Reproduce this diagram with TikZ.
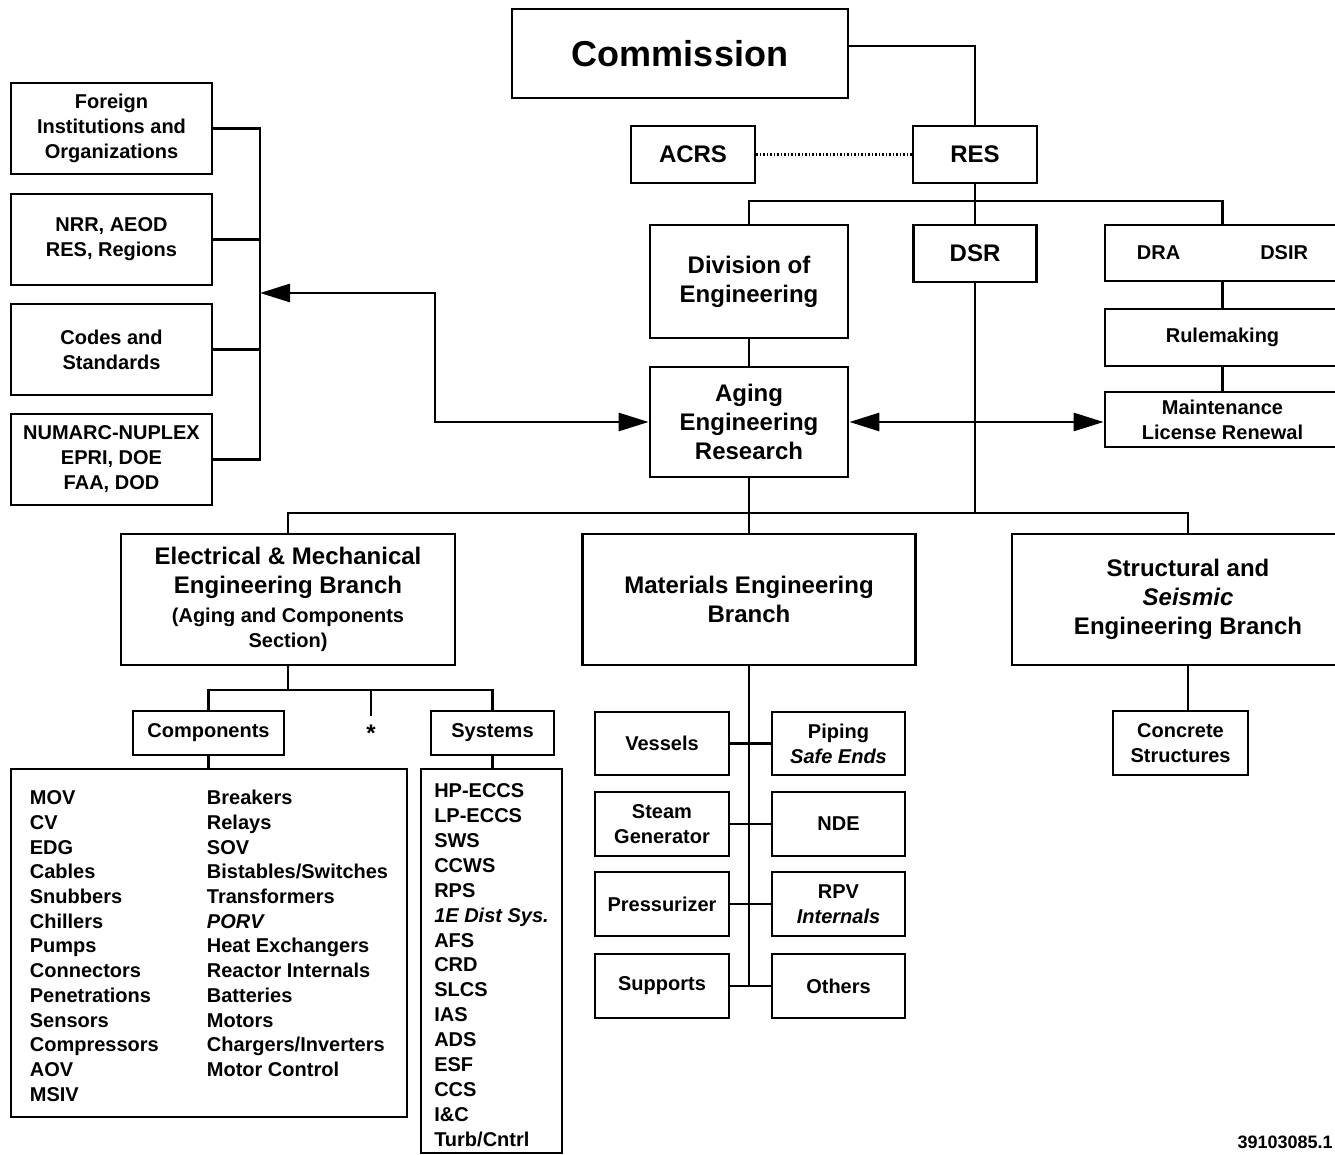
\documentclass[tikz,border=0pt]{standalone}
\usepackage{fontspec}
\setmainfont{Liberation Sans}
\usetikzlibrary{arrows.meta}

\begin{document}
\begin{tikzpicture}[x=1pt, y=-1pt, line width=2.8pt,
  >={Triangle[length=30pt,width=18pt]},
  box/.style={draw, align=center, inner sep=0pt, font=\fontsize{20}{25}\selectfont\bfseries},
  head/.style={box, font=\fontsize{24}{29}\selectfont\bfseries},
  dotline/.style={line width=2.2pt, dash pattern=on 1.5pt off 2pt}]

  \clip (0,0) rectangle (1335,1155);

  \node[box, font=\fontsize{36}{40}\selectfont\bfseries, minimum width=336pt, minimum height=89pt] (commission) at (680,53.5) {Commission};
  \node[head, minimum width=124pt, minimum height=57pt] (acrs) at (693,154.5) {ACRS};
  \node[head, minimum width=124pt, minimum height=57pt] (res) at (975,154.5) {RES};

  \node[head, minimum width=198pt, minimum height=113pt] (diveng) at (749,281.5) {Division of\\Engineering};
  \node[head, minimum width=123pt, minimum height=57pt] (dsr) at (975,253.5) {DSR};
  \node[box, minimum width=235pt, minimum height=56pt] (dra) at (1222.5,253) {DRA\hspace{80pt}DSIR};
  \node[box, minimum width=235pt, minimum height=57pt] (rulemaking) at (1222.5,337.5) {Rulemaking};
  \node[box, minimum width=235pt, minimum height=55pt] (renewal) at (1222.5,419.5) {Maintenance\\License Renewal};
  \node[head, minimum width=198pt, minimum height=110pt] (aging) at (749,422) {Aging\\Engineering\\Research};

  \node[box, minimum width=201pt, minimum height=91pt] (foreign) at (111.5,128.5) {Foreign\\Institutions and\\Organizations};
  \node[box, minimum width=201pt, minimum height=91pt] (nrr) at (111.5,239.5) {NRR, AEOD\\RES, Regions};
  \node[box, minimum width=201pt, minimum height=91pt] (codes) at (111.5,349.5) {Codes and\\Standards};
  \node[box, minimum width=201pt, minimum height=91pt] (numarc) at (111.5,459.5) {NUMARC-NUPLEX\\EPRI, DOE\\FAA, DOD};

  \node[head, minimum width=334pt, minimum height=131pt] (elecmech) at (288,599.5) {Electrical \& Mechanical\\Engineering Branch\\\fontsize{20}{25}\selectfont (Aging and Components\\[-4pt]\fontsize{20}{25}\selectfont Section)};
  \node[head, minimum width=333pt, minimum height=131pt] (materials) at (749,599.5) {Materials Engineering\\Branch};
  \node[head, minimum width=352pt, minimum height=131pt] (structural) at (1188,599.5) {Structural and\\\textit{Seismic}\\Engineering Branch};

  \node[box, minimum width=151pt, minimum height=44pt] (components) at (208.5,733) {Components};
  \node[font=\fontsize{24}{24}\selectfont\bfseries, inner sep=0pt] (star) at (371,733) {*};
  \node[box, minimum width=123pt, minimum height=44pt] (systems) at (492.5,733) {Systems};

  \node[box, minimum width=396pt, minimum height=348pt, font=\fontsize{20}{24.7}\selectfont\bfseries] (complist) at (209,943) {%
    \raisebox{-5pt}[\height][\depth]{\begin{tabular}{@{}p{177pt}@{}l@{}}
      MOV & Breakers\\
      CV & Relays\\
      EDG & SOV\\
      Cables & Bistables/Switches\\
      Snubbers & Transformers\\
      Chillers & \textit{PORV}\\
      Pumps & Heat Exchangers\\
      Connectors & Reactor Internals\\
      Penetrations & Batteries\\
      Sensors & Motors\\
      Compressors & Chargers/Inverters\\
      AOV & Motor Control\\
      MSIV &
    \end{tabular}}};
  \node[box, minimum width=141pt, minimum height=384pt, font=\fontsize{20}{24.86}\selectfont\bfseries] (syslist) at (491.5,961) {%
    \raisebox{-6pt}[\height][\depth]{\begin{tabular}{@{}l@{}}
      HP-ECCS\\ LP-ECCS\\ SWS\\ CCWS\\ RPS\\ \textit{1E Dist Sys.}\\ AFS\\ CRD\\
      SLCS\\ IAS\\ ADS\\ ESF\\ CCS\\ I\&C\\ Turb/Cntrl
    \end{tabular}}};

  \node[box, minimum width=134pt, minimum height=63pt] (vessels) at (662,743.5) {Vessels};
  \node[box, minimum width=133pt, minimum height=63pt] (piping) at (838.5,743.5) {Piping\\\textit{Safe Ends}};
  \node[box, minimum width=134pt, minimum height=64pt] (steamgen) at (662,824) {Steam\\Generator};
  \node[box, minimum width=133pt, minimum height=64pt] (nde) at (838.5,824) {NDE};
  \node[box, minimum width=134pt, minimum height=64pt] (pressurizer) at (662,904) {Pressurizer};
  \node[box, minimum width=133pt, minimum height=64pt] (rpv) at (838.5,904) {RPV\\\textit{Internals}};
  \node[box, minimum width=134pt, minimum height=64pt] (supports) at (662,986) {Supports};
  \node[box, minimum width=133pt, minimum height=64pt] (others) at (838.5,986) {Others};

  \node[box, minimum width=135pt, minimum height=64pt] (concrete) at (1180.5,743) {Concrete\\Structures};

  \node[font=\fontsize{18}{18}\selectfont\bfseries, anchor=east, inner sep=0pt] (docnum) at (1334,1142) {39103085.1};

  \coordinate (topbus) at (975,201);
  \coordinate (midbus) at (975,513);
  \coordinate (emebus) at (290,690);
  \coordinate (bracket) at (260,293);
  \coordinate (startip) at (371,716);

  \draw ([yshift=7.5pt]commission.east) -| (res.north);
  \draw[dotline] (acrs) -- (res);
  \draw (res) -- (dsr);
  \draw (diveng.north) |- (topbus) -| (dra.north);
  \draw (diveng) -- (aging);
  \draw (dra) -- (rulemaking);
  \draw (rulemaking) -- (renewal);
  \draw (dsr.south) -- (dsr.south |- midbus);

  \draw (foreign.east) -- (foreign.east -| bracket) -- (numarc.east -| bracket) -- (numarc.east);
  \draw (nrr.east) -- (nrr.east -| bracket);
  \draw (codes.east) -- (codes.east -| bracket);
  \draw[<->] (bracket) -- ++(175,0) |- (aging.west);
  \draw[<->] (aging.east) -- (aging.east -| renewal.west);

  \draw (elecmech.north) |- (midbus) -| (structural.north);
  \draw (aging) -- (materials);

  \draw (elecmech.south) -- (elecmech.south |- emebus);
  \draw (components.north) |- (emebus) -| (systems.north);
  \draw (startip |- emebus) -- (startip);
  \draw (components.south) -- (components.south |- complist.north);
  \draw (systems.south) -- (systems.south |- syslist.north);

  \draw (materials.south) -- (materials.south |- others.west);
  \draw (vessels) -- (piping);
  \draw (steamgen) -- (nde);
  \draw (pressurizer) -- (rpv);
  \draw (supports) -- (others);

  \draw (structural.south) -- (structural.south |- concrete.north);

\end{tikzpicture}
\end{document}
